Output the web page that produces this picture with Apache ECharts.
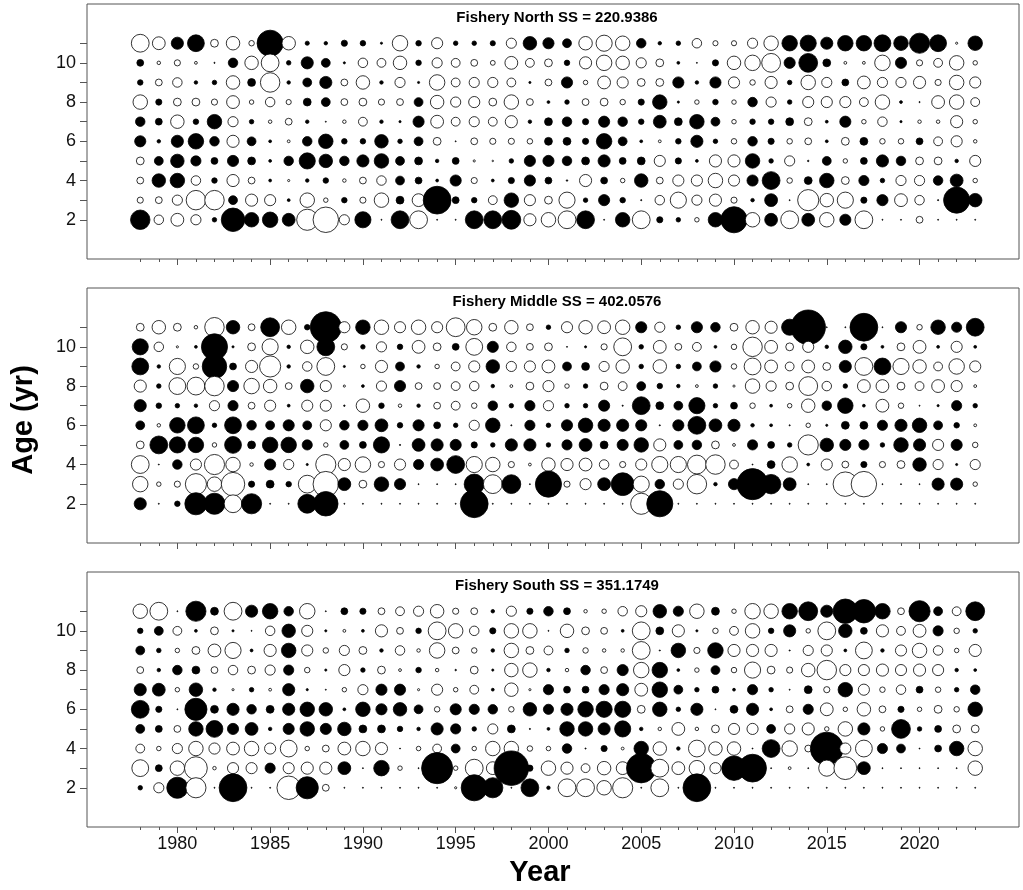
<!DOCTYPE html>
<html>
<head>
<meta charset="utf-8">
<title>Fishery age residuals</title>
<script src="https://cdn.jsdelivr.net/npm/echarts@6/dist/echarts.min.js"></script>
<style>
  html, body { margin: 0; padding: 0; background: #fff; }
  #chart { width: 1023px; height: 890px; }
</style>
</head>
<body>
<div id="chart"></div>
<script>
// residuals by age, 1978..2023 (positive = filled, negative = open)
const years = Array.from({ length: 46 }, (_, i) => 1978 + i);
const ages = [2, 3, 4, 5, 6, 7, 8, 9, 10, 11];
const majorYears = [1980, 1985, 1990, 1995, 2000, 2005, 2010, 2015, 2020];
const ageTicks = [2, 3, 4, 5, 6, 7, 8, 9, 10, 11];
const ageLabels = [2, 4, 6, 8, 10];

const panelTitles = [
  'Fishery North SS = 220.9386',
  'Fishery Middle SS = 402.0576',
  'Fishery South SS = 351.1749'
];

// --- Fishery North ---
const north11 = [-5.5,-4,3.8,5.2,-2.5,-4.2,-1.8,8,-4.2,1.4,1.2,2,1.8,0.8,-4.8,1.8,-3.5,1.5,1.5,1.7,-3.2,4.2,3.5,
  2.8,-4.2,-5,-4.5,3,1.2,1.5,-3,-1.7,-1.7,-3.2,-4.5,4.8,5,3.8,4.8,4.8,5.2,4.5,6.2,5.2,-0.8,4.5];
const north10 = [2.2,-1.2,-2,-1,0.5,3,-4.2,-5.5,1.5,3.8,2.8,0.8,-3,-2.8,-4.2,1.8,-3.2,-2.8,-2.2,-1.6,-4,-2.8,-2.5,
  1.8,-3.8,-4.8,-4.2,-3.2,-2.5,1,0.4,2,-4.2,-4.8,-5.8,3.5,5.8,2.5,-1,-1,-4.8,3.5,-2,-2.8,-4.5,-1.5];
const north9 = [1.8,-2.2,-3,1.2,1.5,-4.2,2.5,-6,1.2,2.8,3.8,-2.2,-4.2,1.2,-3.2,0.8,-4.8,-2.8,-3.2,-3.2,-2.8,0.8,-2.2,
  3.5,-1.5,-4,-3.5,-2.5,-2.5,3.5,1.2,3.5,-3.5,-1.8,-3.8,1.5,-4.5,-3.2,2.2,-4,-3.2,-3.2,-3.8,-2,-4.5,-3.5];
const north8 = [-4.5,2,-2.5,-2.5,-2,-4,-1.5,-3,-1.7,2.5,2.8,-2.2,-2.5,-2,-2.2,2.8,-4.2,-3.2,-3.5,-2.5,-4.5,-2.2,1,
  1.5,-2.2,-2.5,-1.8,2,4.5,0.8,-1.5,1.8,-1.5,3,-3.2,1.5,-3.5,-3.5,-3.5,-2.8,-4.5,1,0.5,-4,-4.5,-2.8];
const north7 = [3,2.2,-4.2,1.8,4.5,-3.2,1.5,-1.2,-2.2,1.2,0.4,-1.2,-2.8,1.2,0.8,3.5,-4,-2.8,-3.2,-2.8,-3.8,1.2,2.5,
  3,2,3.5,3,1.8,4,2.5,4.5,2.8,-1.5,1.8,1.8,2.5,-2.5,1,3.5,-1.5,-3,0.8,-1.2,-1.2,-3.8,-1.5];
const north6 = [3.5,1.2,3.8,4.8,3,-3.8,2.8,1,-1,3,4.5,1.8,1.8,4.2,1.5,2.8,-2.5,0.3,-2.2,-2,-2,-1.8,2.5,
  2.5,2,4.8,2.8,1,-1,1.8,3.8,1.5,-1.8,3,2,-1.8,-2.2,1,-2.5,2.5,-1.8,-1.8,2.2,-2.8,-3.5,-1.2];
const north5 = [-2.5,2.8,4.2,3.2,2.2,3.5,2.5,1,3,5,4.2,3,3.8,4.5,2.8,2.5,1.2,2.2,-0.8,-0.6,1.5,3.5,3.5,
  3,2.5,3.8,2.2,2.5,-3.5,2,1,-3.8,-3.8,4.5,1.5,-3.2,0.6,2.8,-1.5,2.2,3.8,3,-2.5,-2.5,1.2,-3.5];
const north4 = [-2.2,4.2,4.5,-3,1.8,-3.8,-2.2,1,-0.8,1.2,1.8,-1.2,-2.2,-3,2.8,2.2,1,3.5,-2,1,2,3.5,2.2,
  0.6,-3.8,2.2,-1.5,4.2,-2.2,-3.5,-3.5,-4.5,-3.5,3.5,5.5,-1.8,2.5,4.5,-2.5,3.2,1.5,-3.2,-3.2,3,4,-1.5];
const north3 = [-2,-2.2,-3.2,-6,-6,2.8,-3.8,-3.5,1,-4.5,-1.5,1.8,-2,-4.5,2.5,-4,8.5,2.2,1.8,-2.8,4.5,-3.5,-2.5,
  -5,1.5,3.5,1.8,0.5,-3,-5,-3.2,-3.8,-2,1.2,4,0.4,-6.5,-4.2,-5,2,3.5,-4,-3,0.5,8,4.2];
const north2 = [6,-3,-4,-3.2,1.5,7.2,4.5,4.8,4,-6.5,-7.8,-3.2,5,0.3,5.5,-5.5,0.3,0.3,5.5,5.5,5.8,-3.8,-4.5,
  -5.5,5.5,0.3,4.5,-5.5,2,1.5,-1.5,4.5,8,-4.5,4,-5.5,4,-4.5,3.5,-5.5,0.3,0.3,-2.2,0.3,0.3,0.3];

// --- Fishery Middle ---
const middle11 = [-2.5,-4.2,-2.5,-1.2,-6,4.2,-2.2,5.8,-4.5,1.8,9.5,-3.5,4.5,-4.5,-3.5,-4.5,-3.5,-5.8,-4.8,-2.5,-4.2,-2.2,1.5,
  -3.5,-4.2,-4,-4.5,3.5,-3.2,1.5,3.5,3,-2.5,-4.2,-3.8,5,10.5,0.3,0.3,8.5,0.3,3.5,-1.8,4.5,3.2,5.5];
const middle10 = [5,-3,-0.8,1,8,0.8,-2.5,-5,1.2,-4.2,5.5,-2,1.5,-3.2,1.8,-4,-2.5,2.2,-5.2,3.5,-3,-2.2,-2.5,
  0.3,0.8,-2,-5.5,1.5,-4,-2.2,-2.8,1,-1.8,-6,-4,-2.5,-3.5,1.2,4.2,2,1,-2.5,-4,1,-3.5,1];
const middle9 = [5.2,1.2,-5,-1.8,7.5,2.2,-3.8,-6.5,1.2,-3,-5.5,0.8,-1.5,-3.8,2.8,1.2,-1.5,-2.8,-3.5,4.2,-3.2,-3.5,-4,
  2.8,2.5,-3.2,-4.2,1.5,-4.2,1.5,2.8,3.5,-1.8,-5.2,-4,-2.8,-4,-2.5,3.8,-5.5,5.2,-5,-4.2,-2.8,-4.8,-3.5];
const middle8 = [-3.8,1.5,-5.2,-5.5,-6,3.5,-4.8,-4.2,-2.2,4.2,-3.5,-0.8,1,-3.2,3.5,-2.2,-2.2,-2.8,-3,1.2,-1,-2.5,-3.5,
  -1.5,1.5,-2.5,-2.8,2.8,1.8,1.2,-1,1.5,-0.8,-4.5,-3.2,-2.5,-5.8,-3,1.5,-4,-4,-2.5,-2.8,-4,-3.5,-1];
const middle7 = [3.8,1.8,1.5,1.2,-3.2,3.2,-2.2,-3.5,1,-3.5,-3.5,0.6,-4.2,1.8,-1.2,1.2,-2.2,-2.8,-1.8,3,1.5,3.2,-3.2,
  1.5,1.5,3.5,0.5,5.5,2.5,2.8,5,1.5,2.2,-1.8,1,-1.5,-4.2,3,4.8,1,-4,-1.8,0.4,0.8,3.2,1.5];
const middle6 = [2.8,-1.2,4.8,5.2,1.5,5.2,3,2.8,3.5,2.8,-3.5,3,3.2,4,1.8,3.5,2.2,1.5,-3.2,4.5,0.5,3.2,1.5,
  3.5,4.5,3.8,3.8,3.5,0.5,3.5,5.5,4,3.8,1.2,1,0.5,-1.5,0.8,2.5,2.5,3.2,3.8,4.5,2.8,1.8,-1];
const middle5 = [-2.5,5.5,5,4.8,-1.5,5.2,2.5,4.8,4.8,3.2,-1.5,2.8,2.2,5,0.5,4,3.8,3.5,2,1.5,3.8,3.8,1.5,
  3.2,4,2.5,3.5,4.5,-3.8,2.8,3,-2.5,-1,3.2,2.2,1.5,-6.2,4.2,3.5,3.2,1.5,4.5,3.8,-3.5,3.5,-1.8];
const middle4 = [-5.5,0.4,3,-3.5,-6.2,-4.5,-1.2,3.5,-3.2,0.8,-6.2,-3.8,-4.8,-2,-3.5,3.2,4,5.5,-5,-4.5,-2,-1,-4.2,
  -3.8,-4,-3,-2,-3.5,-5,-5,-5.8,-6,-2.8,0.4,2.5,-4.8,1,-3.5,-2.2,2,-2,-2.5,4.2,-3.2,0.8,-3.2];
const middle3 = [-4.8,-1.5,-2,-6.5,-4.5,-7.2,2,2.5,1.8,-5.5,-7.8,4,-2.5,4.5,3.5,0.3,0.3,0.3,6.2,-5.8,5.8,0.3,8,
  -2,-3.5,4,7,-5,3,-3.2,-6,1.2,3.5,9.5,6,4,0.3,0.3,-7.5,-7.8,0.3,0.3,0.3,3.8,3.8,-1.5];
const middle2 = [3.8,0.3,1.8,6.8,6.5,-5.5,6.2,0.3,0.3,5.8,7.5,0.3,0.3,0.3,0.3,0.3,0.3,0.3,8.5,0.3,0.3,0.3,0.3,
  0.3,0.3,0.3,0.3,-6.5,8,0.3,0.3,0.3,0.3,0.3,0.3,0.3,0.3,0.3,0.3,0.3,0.3,0.3,0.3,0.3,0.3,0.3];

// --- Fishery South ---
const south11 = [-4.5,-5.5,0.3,6.2,2.5,-5.5,3.8,4.8,3,-4.8,0.4,2.2,2,-2.2,-2.8,-3.2,-4.2,-2,-2.2,1.2,-3.2,2,3,
  2.2,-1.2,-1.5,-3,-3.5,4.2,3.2,-4.5,2.5,-1.5,-4.8,-4.5,4.8,5.8,3.8,7.5,7.2,4.8,-2.2,6.5,2.8,-2.8,5.8];
const south10 = [1.8,2.8,-2.8,1,-2.5,0.8,0.4,-3,4.2,-3.5,0.8,-1,1,-3.8,-2.2,1.8,-5.5,-4.5,-3,2,-4.5,-4.5,0.3,
  -4.2,-2.5,-2.2,1,-5.5,2.5,-3.8,0.8,-1.8,-2.8,-4.5,1.8,3.8,-1.5,-5.5,4.2,2.2,-3.8,-2.8,-4,3.2,-1.8,1.5];
const south9 = [2.8,1.5,-1.5,-2.5,-4,-5,1,-3.8,4.5,-3.5,-1.8,-3.2,-2.5,1.2,-3,-1.2,-4.8,-2.2,-1.8,1.2,-4.5,-2.5,-2.8,
  1.5,-1.8,-1.2,-1.2,-5.5,0.5,4.5,-2,4.8,-3.8,-3.8,-3.8,0.5,-3.2,-3.5,1,-5.2,1.2,-3.5,-4.5,-3,-1.5,-3.8];
const south8 = [-2.2,1.2,3,2.5,-2.2,-3,-2.5,-3.2,3.2,-1.8,0.8,-3.5,1.5,-2.5,-1,1.8,-1.2,0.6,-2.5,0.8,-4.2,-4.5,1.2,
  -1.2,3,-2.2,3.5,-4.8,4.8,1,-1.5,2.8,-1.8,-5,-2.5,-2,-4.2,-6,-3.5,-3.5,-3.8,-3.5,-3.8,-3.5,1.2,1];
const south7 = [3.8,4,-1.5,4.2,1.2,-0.8,1.5,-1,3.8,0.8,0.4,-1.5,-3.2,3.5,3.5,-0.8,-3.5,-1.5,-2.8,1,-4.2,-0.8,3.2,
  2.2,2.2,3.2,3.8,-4,4.8,2.8,1.5,2.2,1,3.2,1.5,0.3,2.5,-2,4.5,-3.5,-1.8,-3,2.2,-1.8,1.5,3];
const south6 = [5.5,2,0.3,6.8,2.5,3.8,3,2.5,3.8,4.5,4.2,1,4.5,3.5,4.2,2.8,-1.8,3.5,3.2,3,-1.8,4.2,3.2,
  3.8,4.8,5,5,-2.5,4.5,1.5,3.8,0.3,2.5,3.8,1,-2.2,3.2,-4,-1.5,-4.2,-2.2,2,-1.5,-2.5,-1.8,4.5];
const south5 = [2.8,2.2,-2.2,4.5,5.2,3.5,4,1.2,3.5,4.5,3.5,4.2,2.5,2.5,1.8,1.2,3.8,3.2,1.5,-3.2,2.5,0.5,1,
  4.5,4.5,3.8,5,1.2,-1.2,-4,-1.2,-2.5,-3.5,-3.5,2.8,-3.2,-3.8,-1.5,-4.5,3.8,-1.5,5.8,1.5,2.2,-2.5,-2.5];
const south4 = [-2.8,-1.5,-3.2,-4.5,-3.5,-4,-4.5,-3.5,-5.2,-1.5,-2.2,-4,-4.5,-3.8,0.4,-1.5,-2.8,2.8,-1.5,-4.5,-4.5,-1.8,-1.5,
  3,0.5,2,-1,4.5,-4.2,1.2,-5.2,-4.2,-4.2,0.4,5.5,-4.8,-2.2,10,-3.5,-5.2,3.2,2.8,0.3,2.2,4.5,-4.5];
const south3 = [-5.2,2.2,-4.5,-7,-1.2,-3.5,-3.5,3.2,-3.5,-3.8,-3.8,4,0.4,4.8,-1.5,0.3,9.5,-1.5,-5.5,-4,10.5,2,-4.5,
  -3.8,-2.8,-4.2,-4,9,-5.5,-4,-4.8,-3.5,7.5,8.5,0.3,-1,0.3,-5,-7,4,0.3,0.3,0.3,0.3,0.3,-4.5];
const south2 = [1.5,-3.2,6.5,-6.2,0.3,8.5,0.3,0.3,-7.2,6.8,-2.2,0.3,0.3,0.3,0.3,0.3,0.3,-0.8,8,6.2,0.3,5.5,1.2,
  -5.5,-5.5,-4.5,-6.2,0.3,-5.5,0.3,8.5,0.3,0.3,0.3,0.3,0.3,0.3,0.3,0.3,0.3,0.3,0.3,0.3,0.3,0.3,0.3];

const northRows = [north2, north3, north4, north5, north6, north7, north8, north9, north10, north11];
const middleRows = [middle2, middle3, middle4, middle5, middle6, middle7, middle8, middle9, middle10, middle11];
const southRows = [south2, south3, south4, south5, south6, south7, south8, south9, south10, south11];

// older ages first so younger ones sit on top, like the original plot
function toPoints(rows) {
  const pts = [];
  for (let a = ages.length - 1; a >= 0; a--) {
    rows[a].forEach((v, i) => pts.push([years[i], ages[a], v]));
  }
  return pts;
}

const chart = echarts.init(document.getElementById('chart'), null, { renderer: 'canvas' });

const FONT = 'Liberation Sans, Arial, sans-serif';
const gridTops = [4, 288, 572];
const GRID_LEFT = 87;
const GRID_W = 932;
const GRID_H = 255;
const X_MIN = 1975.13;
const X_MAX = 2025.36;

const grids = [];
const xAxes = [];
const yAxes = [];
const series = [];
const graphics = [];

[northRows, middleRows, southRows].forEach((rows, p) => {
  const isBottom = p === 2;
  grids.push({
    left: GRID_LEFT, top: gridTops[p], width: GRID_W, height: GRID_H,
    show: true, borderColor: '#555', borderWidth: 1, backgroundColor: '#fff'
  });
  // major ticks (labelled on the bottom panel)
  xAxes.push({
    type: 'value', gridIndex: p, min: X_MIN, max: X_MAX, position: 'bottom',
    axisLine: { show: false },
    splitLine: { show: false },
    axisTick: { show: true, customValues: majorYears, length: 6, lineStyle: { color: '#555' } },
    axisLabel: {
      show: isBottom, customValues: majorYears, margin: 8,
      formatter: (v) => String(Math.round(v)),
      fontFamily: FONT, fontSize: 18, color: '#111'
    }
  });
  // one small tick per year
  xAxes.push({
    type: 'value', gridIndex: p, min: X_MIN, max: X_MAX, position: 'bottom',
    axisLine: { show: false },
    splitLine: { show: false },
    axisTick: { show: true, customValues: years, length: 3, lineStyle: { color: '#555' } },
    axisLabel: { show: false }
  });
  yAxes.push({
    type: 'value', gridIndex: p, min: 0, max: 13,
    axisLine: { show: false },
    splitLine: { show: false },
    axisTick: { show: true, customValues: ageTicks, length: 7, lineStyle: { color: '#555' } },
    axisLabel: {
      customValues: ageLabels, margin: 11,
      formatter: (v) => String(Math.round(v)),
      fontFamily: FONT, fontSize: 18, color: '#111'
    }
  });
  series.push({
    type: 'scatter',
    xAxisIndex: p * 2,
    yAxisIndex: p,
    data: toPoints(rows),
    symbol: 'circle',
    symbolSize: (val) => Math.max(Math.abs(val[2]) * 3.33 - 0.5, 1),
    itemStyle: {
      color: (params) => (params.value[2] > 0 ? '#000' : '#fff'),
      borderColor: '#000',
      borderWidth: 0.8,
      opacity: 1
    },
    silent: true
  });
  graphics.push({
    type: 'text',
    x: 557, y: gridTops[p] + 14,
    style: {
      text: panelTitles[p], fontFamily: FONT, fontSize: 15, fontWeight: 'bold',
      fill: '#000', textAlign: 'center', textVerticalAlign: 'middle'
    }
  });
});

graphics.push({
  type: 'text', x: 540, y: 873,
  style: {
    text: 'Year', fontFamily: FONT, fontSize: 29, fontWeight: 'bold',
    fill: '#000', textAlign: 'center', textVerticalAlign: 'middle'
  }
});
graphics.push({
  type: 'text', x: 24, y: 420, rotation: Math.PI / 2,
  style: {
    text: 'Age (yr)', fontFamily: FONT, fontSize: 29, fontWeight: 'bold',
    fill: '#000', textAlign: 'center', textVerticalAlign: 'middle'
  }
});

chart.setOption({
  animation: false,
  backgroundColor: '#fff',
  grid: grids,
  xAxis: xAxes,
  yAxis: yAxes,
  series: series,
  graphic: graphics
});
</script>
</body>
</html>
